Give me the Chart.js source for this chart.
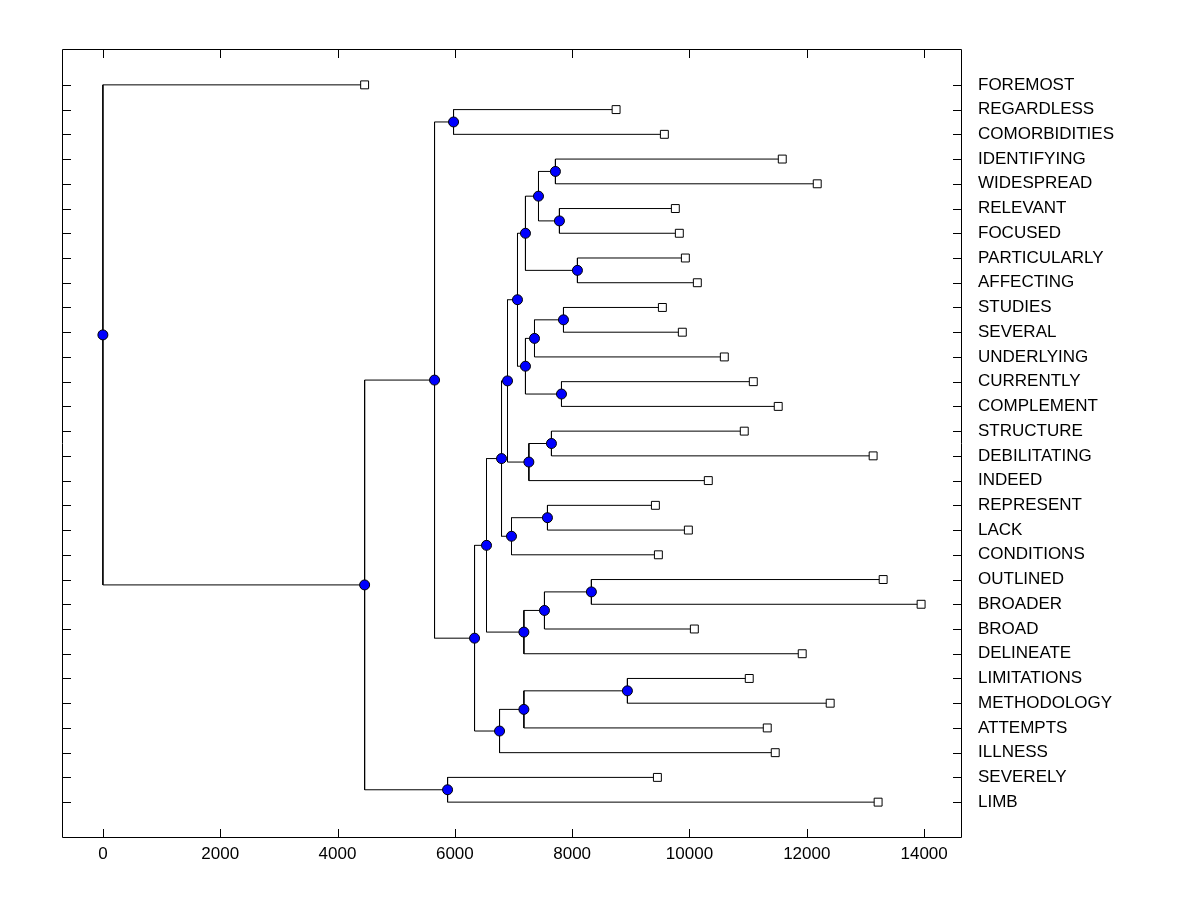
<!DOCTYPE html>
<html>
<head>
<meta charset="utf-8">
<title>Dendrogram</title>
<script src="https://cdn.jsdelivr.net/npm/chart.js@4/dist/chart.umd.min.js"></script>
<style>
    body { margin: 0; background: #fff; }
    #chart { display: block; }
</style>
</head>
<body>
<canvas id="chart" width="1200" height="900"></canvas>
<script>
// leaves, top to bottom
const leafNames = [
    'FOREMOST', 'REGARDLESS', 'COMORBIDITIES', 'IDENTIFYING', 'WIDESPREAD',
    'RELEVANT', 'FOCUSED', 'PARTICULARLY', 'AFFECTING', 'STUDIES',
    'SEVERAL', 'UNDERLYING', 'CURRENTLY', 'COMPLEMENT', 'STRUCTURE',
    'DEBILITATING', 'INDEED', 'REPRESENT', 'LACK', 'CONDITIONS',
    'OUTLINED', 'BROADER', 'BROAD', 'DELINEATE', 'LIMITATIONS',
    'METHODOLOGY', 'ATTEMPTS', 'ILLNESS', 'SEVERELY', 'LIMB'
];
const leafHeights = [
    4462, 8749, 9572, 11582, 12178,
    9759, 9827, 9930, 10134, 9538,
    9878, 10594, 11088, 11513, 10934,
    13131, 10321, 9419, 9981, 9470,
    13302, 13949, 10083, 11922, 11019,
    12399, 11326, 11462, 9453, 13216
];

// merges: ids < 30 are leaves, 30 + k is merge k
const mergeLeft   = [1, 3, 5, 7, 31, 34, 9, 36, 12, 37, 35, 14, 41, 40, 17, 44, 43, 20, 47, 48, 46, 24, 51, 52, 50, 30, 28, 55, 0];
const mergeRight  = [2, 4, 6, 8, 32, 33, 10, 11, 13, 38, 39, 15, 16, 42, 18, 19, 45, 21, 22, 23, 49, 25, 26, 27, 53, 54, 29, 56, 57];
const mergeHeight = [5978, 7715, 7783, 8090, 7426, 7204, 7852, 7358, 7818, 7204, 7068, 7647, 7262, 6898, 7579, 6966, 6796, 8328, 7528, 7177, 6540, 8942, 7177, 6762, 6336, 5654, 5876, 4462, 0];

const xTickValues = [0, 2000, 4000, 6000, 8000, 10000, 12000, 14000];

// node positions
const nodeX = leafHeights.slice();
const nodeY = leafNames.map((n, i) => i);
mergeLeft.forEach((a, k) => {
    const b = mergeRight[k];
    nodeX.push(mergeHeight[k]);
    nodeY.push((nodeY[a] + nodeY[b]) / 2);
});

const linkSets = mergeLeft.map((a, k) => {
    const b = mergeRight[k];
    const h = mergeHeight[k];
    return {
        data: [
            {x: nodeX[a], y: nodeY[a]},
            {x: h, y: nodeY[a]},
            {x: h, y: nodeY[b]},
            {x: nodeX[b], y: nodeY[b]}
        ],
        showLine: true,
        borderColor: '#000',
        borderWidth: 1,
        pointRadius: 0,
        tension: 0,
        fill: false,
        order: 2
    };
});

const innerNodes = mergeHeight.map((h, k) => ({x: h, y: nodeY[30 + k]}));
const leafPoints = leafHeights.map((h, i) => ({x: h, y: i}));

// frame box with inward ticks like the original
const boxTicks = {
    id: 'boxTicks',
    afterDraw(chart) {
        const {ctx, chartArea: a, scales} = chart;
        ctx.save();
        ctx.strokeStyle = '#000';
        ctx.lineWidth = 1;
        ctx.beginPath();
        ctx.rect(a.left + 0.5, a.top + 0.5, a.right - a.left - 1, a.bottom - a.top - 1);
        xTickValues.forEach(v => {
            const px = Math.round(scales.x.getPixelForValue(v)) + 0.5;
            ctx.moveTo(px, a.bottom);
            ctx.lineTo(px, a.bottom - 9);
            ctx.moveTo(px, a.top);
            ctx.lineTo(px, a.top + 9);
        });
        leafNames.forEach((n, i) => {
            const py = Math.round(scales.y.getPixelForValue(i)) + 0.5;
            ctx.moveTo(a.left, py);
            ctx.lineTo(a.left + 9, py);
            ctx.moveTo(a.right, py);
            ctx.lineTo(a.right - 9, py);
        });
        ctx.stroke();
        ctx.restore();
    }
};

Chart.defaults.font.family = '"Liberation Sans", Arial, sans-serif';
Chart.defaults.font.size = 17;
Chart.defaults.color = '#000';

new Chart(document.getElementById('chart'), {
    type: 'scatter',
    data: {
        datasets: [
            {
                data: innerNodes,
                pointStyle: 'circle',
                pointRadius: 5,
                backgroundColor: '#0000ff',
                borderColor: '#000',
                borderWidth: 1,
                order: 0
            },
            {
                data: leafPoints,
                pointStyle: 'rect',
                pointRadius: 5.6,
                backgroundColor: '#fff',
                borderColor: '#000',
                borderWidth: 1,
                order: 1
            },
            ...linkSets
        ]
    },
    options: {
        responsive: false,
        devicePixelRatio: 1,
        animation: false,
        layout: {padding: {top: 49, left: 0, right: 0, bottom: 0}},
        plugins: {
            legend: {display: false},
            tooltip: {enabled: false}
        },
        scales: {
            x: {
                type: 'linear',
                position: 'bottom',
                min: -697,
                max: 14646,
                grid: {display: false, drawTicks: false},
                border: {display: false},
                afterBuildTicks: axis => {
                    axis.ticks = xTickValues.map(v => ({value: v}));
                },
                afterFit: axis => {
                    axis.height = 62;
                },
                ticks: {
                    padding: 6,
                    maxRotation: 0,
                    callback: v => String(v)
                }
            },
            y: {
                type: 'linear',
                position: 'left',
                reverse: true,
                min: -1.45,
                max: 30.45,
                grid: {display: false, drawTicks: false},
                border: {display: false},
                ticks: {display: false},
                afterFit: axis => {
                    axis.width = 62;
                }
            },
            y2: {
                type: 'linear',
                position: 'right',
                reverse: true,
                min: -1.45,
                max: 30.45,
                grid: {display: false, drawTicks: false},
                border: {display: false},
                afterBuildTicks: axis => {
                    axis.ticks = leafNames.map((n, i) => ({value: i}));
                },
                afterFit: axis => {
                    axis.width = 238;
                },
                ticks: {
                    padding: 16,
                    autoSkip: false,
                    callback: v => leafNames[v]
                }
            }
        }
    },
    plugins: [boxTicks]
});
</script>
</body>
</html>
